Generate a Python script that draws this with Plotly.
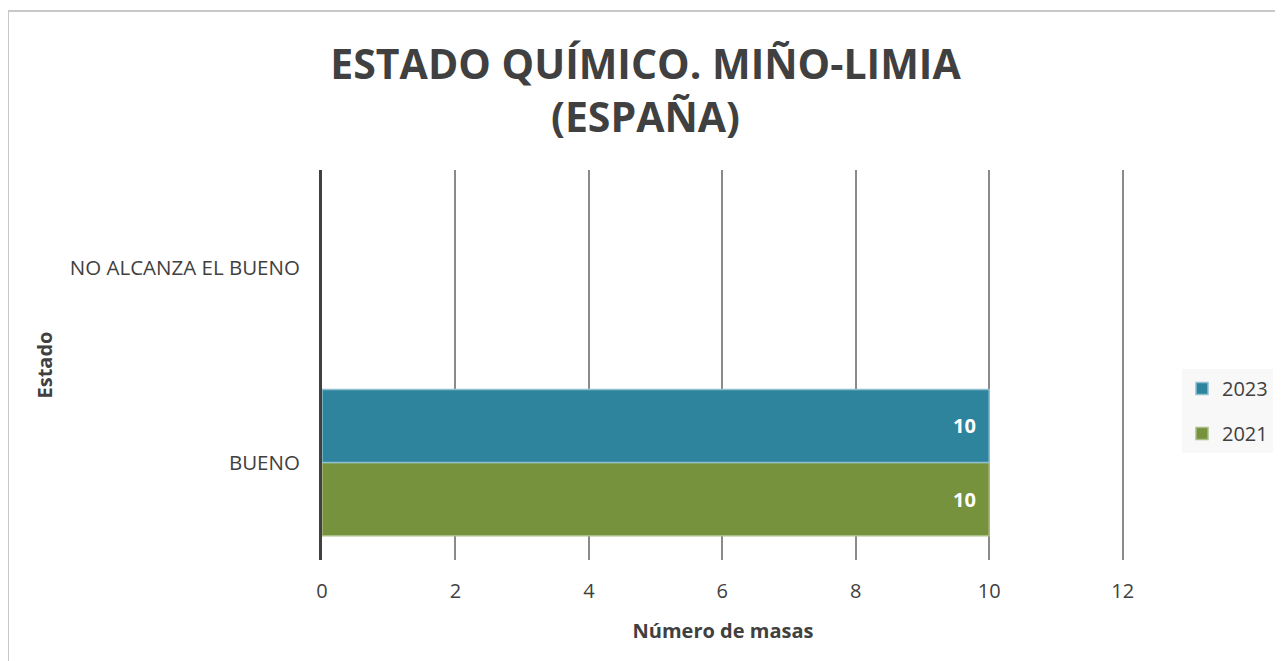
import plotly.graph_objects as go

# datos
estados = ["BUENO", "NO ALCANZA EL BUENO"]
masas_2021 = [10, None]
masas_2023 = [10, None]

x_ticks = [0, 2, 4, 6, 8, 10, 12]

COLOR_2023 = "#2E849C"
COLOR_2021 = "#76923C"
FONT = "Open Sans"
TXT = "#404040"


def etiquetas(valores):
    # espacio final para separar la etiqueta del extremo de la barra
    return [f"{v}\u00a0\u00a0" if v is not None else "" for v in valores]


fig = go.Figure()

fig.add_trace(
    go.Bar(
        y=estados,
        x=masas_2021,
        name="2021",
        legendgroup="2021",
        legendrank=2,
        orientation="h",
        marker=dict(color=COLOR_2021, line=dict(color="#a9bd86", width=1.5)),
        text=etiquetas(masas_2021),
        textposition="inside",
        insidetextanchor="end",
        textfont=dict(family=FONT, size=20, color="white", weight="bold"),
    )
)

fig.add_trace(
    go.Bar(
        y=estados,
        x=masas_2023,
        name="2023",
        legendgroup="2023",
        legendrank=1,
        orientation="h",
        marker=dict(color=COLOR_2023, line=dict(color="#8fc0cf", width=1.5)),
        text=etiquetas(masas_2023),
        textposition="inside",
        insidetextanchor="end",
        textfont=dict(family=FONT, size=20, color="white", weight="bold"),
    )
)

# la página añade 8 px de margen al body: todo se mide restando ese desfase
OFF = 8
W, H = 1283 - OFF, 661 - OFF
L, T = 322 - OFF, 170 - OFF
R, B = W - (1124 - OFF), H - (560 - OFF)
pw, ph = W - L - R, H - T - B


def px_x(p):
    return (p - OFF - L) / pw


def px_y(p):
    return (H - B - (p - OFF)) / ph


# marco exterior gris claro
fig.add_shape(
    type="rect",
    xref="paper", yref="paper",
    x0=(0 - L) / pw, x1=px_x(1300),
    y0=px_y(700), y1=px_y(11),
    line=dict(color="#c8c8c8", width=2),
    fillcolor="rgba(0,0,0,0)",
    layer="below",
)

fig.update_layout(
    width=W,
    height=H,
    margin=dict(l=L, r=R, t=T, b=B, autoexpand=False),
    paper_bgcolor="white",
    plot_bgcolor="white",
    barmode="group",
    bargap=0.25,
    bargroupgap=0,
    title=dict(
        text="ESTADO QUÍMICO. MIÑO-LIMIA<br>(ESPAÑA)",
        x=0.5,
        xanchor="center",
        yref="container",
        y=1 - (79 - OFF) / H,
        yanchor="middle",
        font=dict(family=FONT, size=41, color=TXT, weight="bold"),
    ),
    legend=dict(
        x=px_x(1182),
        y=px_y(411),
        xanchor="left",
        yanchor="middle",
        traceorder="grouped",
        tracegroupgap=16,
        itemwidth=30,
        bgcolor="#f8f8f8",
        font=dict(family=FONT, size=20, color=TXT),
    ),
    font=dict(family=FONT, color=TXT),
    xaxis=dict(
        range=[0, 12.02],
        tickvals=x_ticks,
        showgrid=True,
        gridcolor="#8a8a8a",
        gridwidth=2,
        zeroline=False,
        showline=False,
        ticklabelstandoff=17,
        tickfont=dict(family=FONT, size=20, color=TXT),
        title=dict(
            text="Número de masas",
            font=dict(family=FONT, size=20, color=TXT, weight="bold"),
            standoff=20,
        ),
    ),
    yaxis=dict(
        showgrid=False,
        showline=True,
        linecolor="#404040",
        linewidth=3,
        ticklabelstandoff=15,
        tickfont=dict(family=FONT, size=20.5, color=TXT),
        title=dict(
            text="Estado",
            font=dict(family=FONT, size=20, color=TXT, weight="bold"),
            standoff=12,
        ),
    ),
)

fig.write_html("out.html")
